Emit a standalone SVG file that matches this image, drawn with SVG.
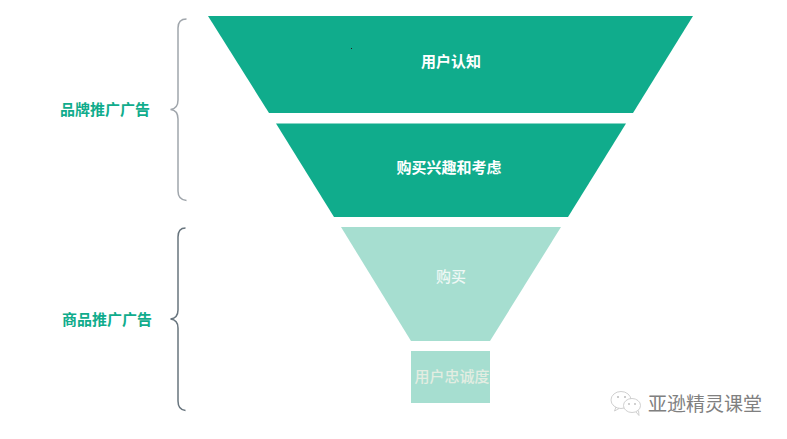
<svg xmlns="http://www.w3.org/2000/svg" width="787" height="439" viewBox="0 0 787 439">
<style>
text{font-family:"Liberation Sans","Noto Sans CJK SC",sans-serif;text-anchor:middle;font-weight:700;font-size:15px}
.dark{fill:#10ac8c}.light{fill:#a6ded0}
.w{fill:#fff}.lbl{fill:#10ac8c}
.brace{fill:none;stroke-width:1.500}
.ic{fill:none;stroke:#c4c4c4;stroke-width:.8}
</style>
<rect width="787" height="439" fill="#fff"/>
<g id="stage-awareness"><polygon class="dark" points="208,16 693,16 633,113 269,113"/><text class="w" x="451" y="66.500">用户认知</text></g>
<g id="stage-interest"><polygon class="dark" points="276,123.500 626,123.500 568,217 334,217"/><text class="w" x="449" y="172.500">购买兴趣和考虑</text></g>
<g id="stage-purchase"><polygon class="light" points="341,227 561,227 490,341 411,341"/><text x="451" y="281.500" style="fill:#eef8f5;font-weight:500">购买</text></g>
<g id="stage-loyalty"><rect class="light" x="411" y="351" width="79" height="52"/><text x="452" y="381.500" style="fill:#e3ede2;font-weight:500">用户忠诚度</text></g>
<g id="connectors">
<path class="brace" stroke="#a0a6ac" d="M186.500,19 C181,19 178,22 178,28 V100 C178,106 175,109 170.500,109.500 C175,110 178,113 178,119 V191 C178,197 181,200 186.500,200.500"/>
<path class="brace" stroke="#68757e" d="M185.500,228 C180,228 178,231 178,237 V310 C178,316 175,318.500 170.500,319 C175,319.500 178,322 178,328 V401 C178,407 180,410 185.500,410.500"/>
</g>
<g id="label-brand"><text class="lbl" x="105" y="115">品牌推广广告</text></g>
<g id="label-product"><text class="lbl" x="107" y="325">商品推广广告</text></g>
<g id="watermark">
<ellipse class="ic" cx="621" cy="400" rx="10" ry="8.500"/>
<ellipse class="ic" cx="632" cy="405.500" rx="8.500" ry="7" style="fill:#fff"/>
<path class="ic" d="M616,407 L614.500,411 L619,408.500M636,412 L639,415.500 L638.500,410.500"/>
<circle cx="618" cy="397" r="1" fill="#bbb"/><circle cx="625" cy="397" r="1" fill="#bbb"/><circle cx="629" cy="404" r=".9" fill="#bbb"/><circle cx="635" cy="404" r=".9" fill="#bbb"/>
<text x="705" y="411" style="font-size:19px;font-weight:400;fill:#808080">亚逊精灵课堂</text>
</g>
<rect x="351" y="48" width="1" height="1" fill="#222"/>
</svg>
